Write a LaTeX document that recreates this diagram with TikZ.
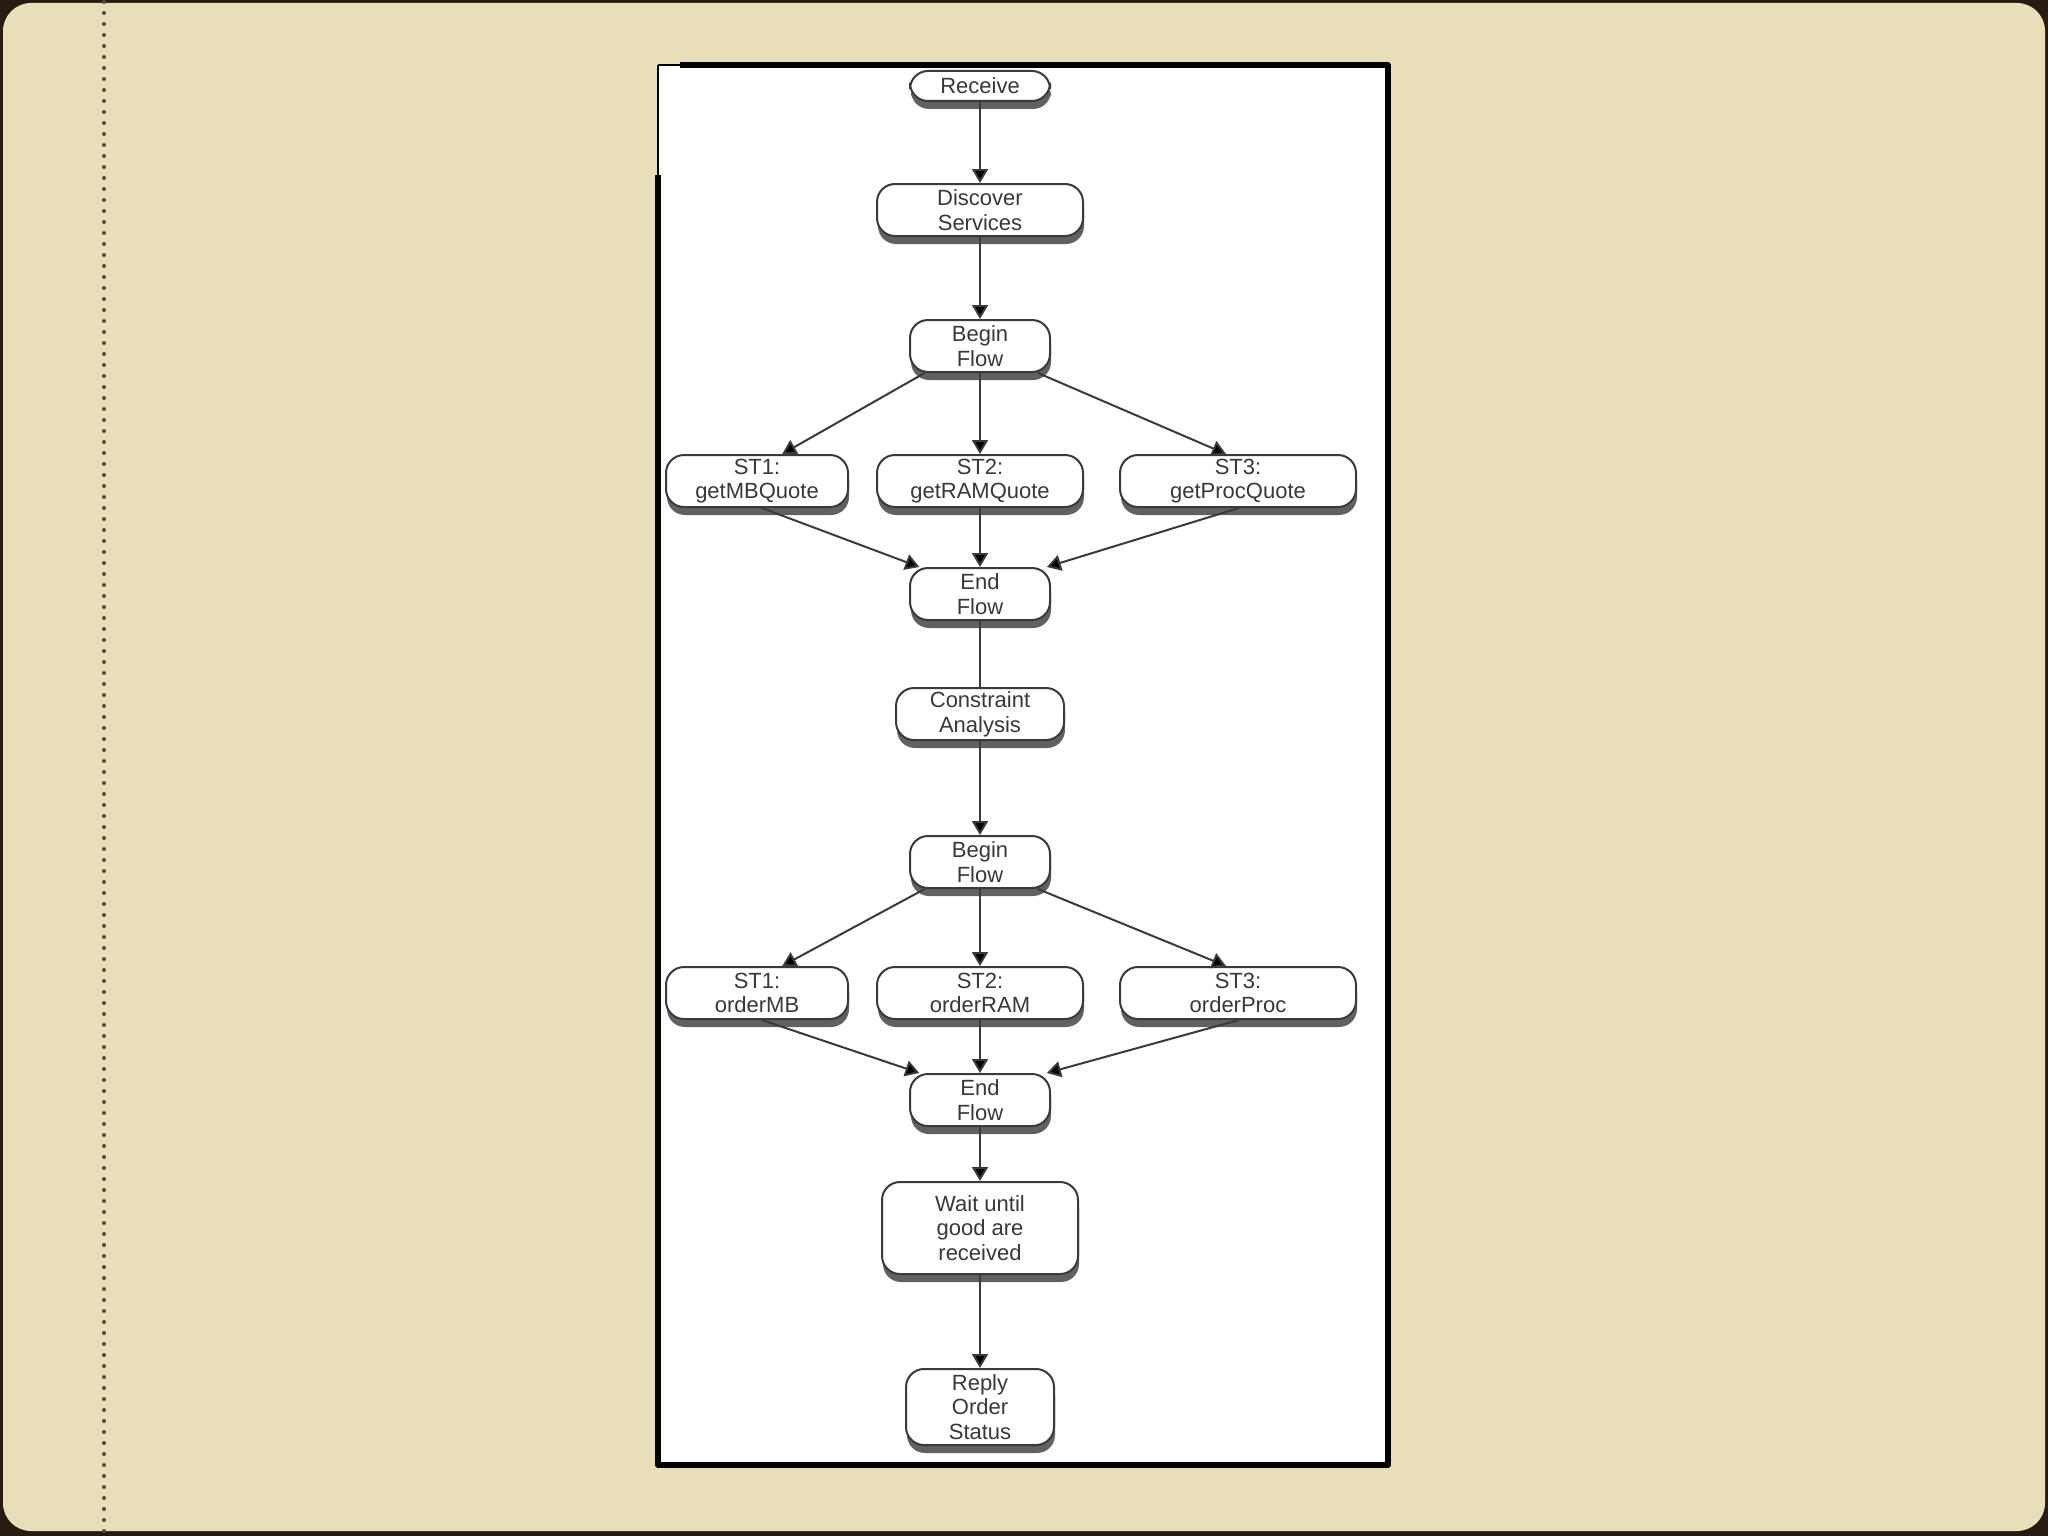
\documentclass[tikz,border=0pt]{standalone}
\usepackage{fontspec}
\setmainfont{Liberation Sans}
\usepackage{tikz}
\usetikzlibrary{shadows}
\usetikzlibrary{positioning}
\usetikzlibrary{arrows.meta,calc}

\definecolor{slide}{RGB}{233,222,186}
\definecolor{outer}{RGB}{38,28,18}
\definecolor{ink}{RGB}{58,58,58}
\definecolor{dots}{RGB}{82,74,60}

\begin{document}
\begin{tikzpicture}[x=0.5pt, y=-0.5pt,
  task/.style={draw=ink, line width=1pt, fill=white, rounded corners=9pt,
    align=center, inner xsep=2pt, inner ysep=0pt, minimum height=26pt,
    text=black!78, font=\fontsize{11}{12.4}\selectfont,
    drop shadow={shadow xshift=0.5pt, shadow yshift=-4pt, fill=black!62, opacity=1}},
  arr/.style={draw=ink, line width=1pt, -{Triangle[length=7pt,width=8pt,fill=black]}},
  link/.style={draw=ink, line width=1pt}]

  \useasboundingbox (0,0) rectangle (2048,1536);

  %slide
  \fill[outer] (0,0) rectangle (2048,1536);
  \fill[slide, rounded corners=14pt] (3,3) rectangle (2045,1531);
  \draw[dots, line width=2pt, line cap=round, dash pattern=on 0pt off 5.5pt] (104,2) -- (104,1536);

  %panel
  \fill[white] (658,65) rectangle (1388,1465);
  \draw[black, line width=0.8pt] (658,65) -- (680,65);
  \draw[black, line width=0.8pt] (658,65) -- (658,175);
  \draw[black, line width=2.6pt, line join=round] (680,65) -- (1388,65) -- (1388,1465) -- (658,1465) -- (658,175);

  \def\cx{980}
  \def\lx{757}
  \def\rx{1238}

  %first flow
  \node[task, minimum width=70pt, minimum height=15pt] (recv) at (\cx,86) {Receive};
  \node[task, minimum width=103pt] (disc) at (\cx,210) {Discover\\Services};
  \node[task, minimum width=70pt] (bf1) at (\cx,346) {Begin\\Flow};

 \def\dy{481};
    \foreach \x/\w/\txt/\name in {\lx/91/{ST1:\\getMBQuote}/mb1,\cx/103/{ST2:\\getRAMQuote}/ram1,\rx/118/{ST3:\\getProcQuote}/proc1}{
         \node[task, minimum width=\w pt] (\name) at (\x,\dy) {\txt};
    }

  \node[task, minimum width=70pt] (ef1) at (\cx,594) {End\\Flow};
  \node[task, minimum width=84pt] (ca) at (\cx,714) {Constraint\\Analysis};

  %second flow
  \node[task, minimum width=70pt] (bf2) at (\cx,862) {Begin\\Flow};

 \def\dy{993};
    \foreach \x/\w/\txt/\name in {\lx/91/{ST1:\\orderMB}/mb2,\cx/103/{ST2:\\orderRAM}/ram2,\rx/118/{ST3:\\orderProc}/proc2}{
         \node[task, minimum width=\w pt] (\name) at (\x,\dy) {\txt};
    }

  \node[task, minimum width=70pt] (ef2) at (\cx,1100) {End\\Flow};
  \node[task, minimum width=98pt, minimum height=46pt] (wait) at (\cx,1228) {Wait until\\good are\\received};
  \node[task, minimum width=74pt, minimum height=38pt] (reply) at (\cx,1407) {Reply\\Order\\Status};

  %arrows
  \draw[arr] (recv) -- (disc);
  \draw[arr] (disc) -- (bf1);
  \draw[arr] (bf1.206) -- (mb1.47);
  \draw[arr] (bf1) -- (ram1);
  \draw[arr] (bf1.335) -- (proc1.114);
  \draw[arr] (mb1.280) -- (ef1.156);
  \draw[arr] (ram1) -- (ef1);
  \draw[arr] (proc1.272) -- (ef1.22);
  \draw[link] (ef1) -- (ca);
  \draw[arr] (ca) -- (bf2);
  \draw[arr] (bf2.206) -- (mb2.47);
  \draw[arr] (bf2) -- (ram2);
  \draw[arr] (bf2.335) -- (proc2.114);
  \draw[arr] (mb2.280) -- (ef2.156);
  \draw[arr] (ram2) -- (ef2);
  \draw[arr] (proc2.272) -- (ef2.22);
  \draw[arr] (ef2) -- (wait);
  \draw[arr] (wait) -- (reply);

\end{tikzpicture}
\end{document}
